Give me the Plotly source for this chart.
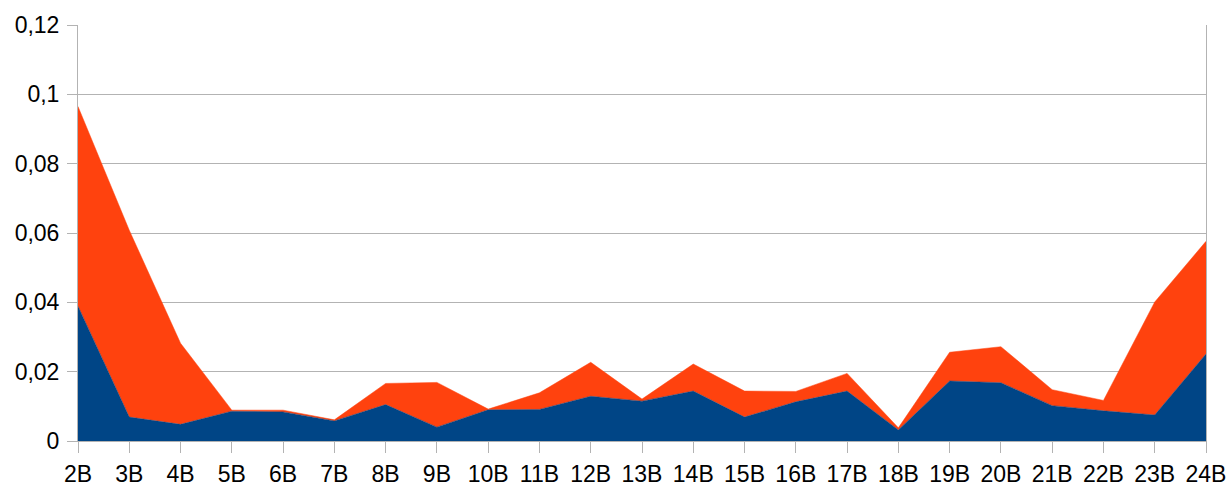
import plotly.graph_objects as go

categories = ["2B", "3B", "4B", "5B", "6B", "7B", "8B", "9B", "10B", "11B", "12B",
              "13B", "14B", "15B", "16B", "17B", "18B", "19B", "20B", "21B", "22B",
              "23B", "24B"]

# bottom series (blue)
series_1 = [0.0389, 0.0069, 0.0048, 0.0086, 0.0084, 0.0058, 0.0105, 0.0040, 0.0090,
            0.0091, 0.0129, 0.0115, 0.0144, 0.0069, 0.0113, 0.0144, 0.0032, 0.0173,
            0.0168, 0.0102, 0.0087, 0.0075, 0.0251]

# stacked on top (orange)
series_2 = [0.0576, 0.0539, 0.0234, 0.0003, 0.0005, 0.0003, 0.0061, 0.0129, 0.0002,
            0.0048, 0.0098, 0.0006, 0.0078, 0.0075, 0.0030, 0.0051, 0.0006, 0.0083,
            0.0104, 0.0046, 0.0030, 0.0326, 0.0325]

fig = go.Figure()
fig.add_trace(go.Scatter(x=categories, y=series_1, mode="lines", stackgroup="one",
                         line=dict(color="#004586", width=0.5),
                         fillcolor="#004586", name="Series 1"))
fig.add_trace(go.Scatter(x=categories, y=series_2, mode="lines", stackgroup="one",
                         line=dict(color="#ff420e", width=0.5),
                         fillcolor="#ff420e", name="Series 2"))

grid = "#b3b3b3"
fig.update_layout(
    width=1231, height=487,
    margin=dict(l=78, r=25, t=25, b=46),
    paper_bgcolor="white", plot_bgcolor="white",
    showlegend=False,
    separators=", ",
    font=dict(family="Liberation Sans", size=23, color="black"),
)
fig.update_xaxes(type="category", range=[0, 22], showgrid=False,
                 ticks="outside", ticklen=11, tickcolor=grid, ticklabelstandoff=1,
                 showline=True, linecolor=grid, zeroline=False, automargin=False)
fig.update_yaxes(range=[0, 0.12], dtick=0.02, showgrid=True, gridcolor=grid,
                 ticks="outside", ticklen=10, tickcolor=grid, ticklabelstandoff=3,
                 showline=True, linecolor=grid, mirror=True, zeroline=False,
                 automargin=False)

# page has a default 8px body margin; drop it so the chart fills the window
fig.write_html("out.html", config={"displayModeBar": False},
               post_script="document.body.style.margin='0';")
